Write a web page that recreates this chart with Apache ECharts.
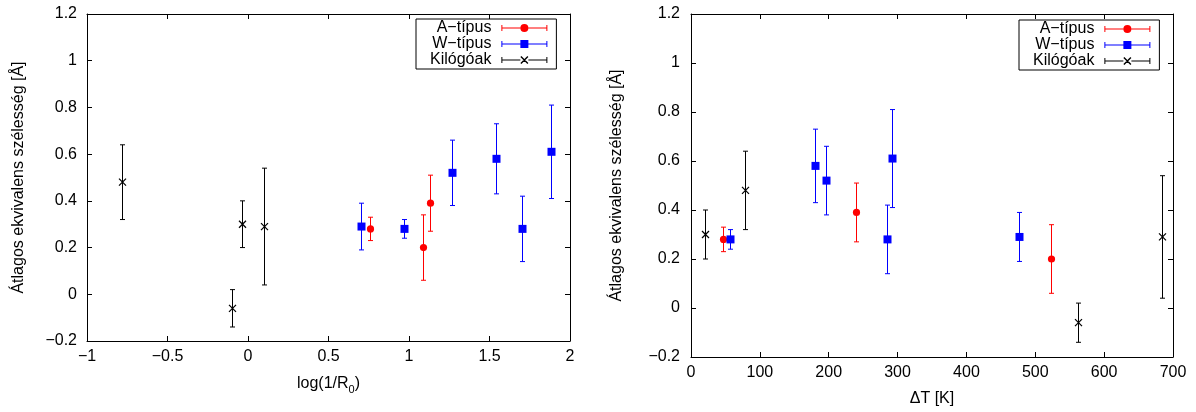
<!DOCTYPE html>
<html><head><meta charset="utf-8">
<script src="https://cdn.jsdelivr.net/npm/echarts@6/dist/echarts.min.js"></script>
<style>html,body{margin:0;padding:0;background:#fff}#c{width:1196px;height:412px}</style>
</head><body><div id="c"></div>
<script>
// ---- data ----
const seriesNames = ['A−típus', 'W−típus', 'Kilógóak'];
const aLogR   = [0.76, 1.09, 1.13];
const aDeltaT = [47, 523, 240];
const aWidth  = [0.28, 0.20, 0.39];
const aErr    = [0.05, 0.14, 0.12];
const wLogR   = [0.70, 0.97, 1.27, 1.54, 1.70, 1.88];
const wDeltaT = [477, 57, 196, 180, 285, 292];
const wWidth  = [0.29, 0.28, 0.52, 0.58, 0.28, 0.61];
const wErr    = [0.10, 0.04, 0.14, 0.15, 0.14, 0.20];
const kLogR   = [-0.78, -0.10, -0.04, 0.10];
const kDeltaT = [79, 562, 20, 684];
const kWidth  = [0.48, -0.06, 0.30, 0.29];
const kErr    = [0.16, 0.08, 0.10, 0.25];
const yLabel = 'Átlagos ekvivalens szélesség [Å]';
const xLabelLeft = '{n|log(1/R}{sub|0}{n|)}';
const xLabelRight = 'ΔT [K]';

const FONT = '"Liberation Sans", Arial, Helvetica, sans-serif';
const colors = ['#ff0000', '#0000ff', '#000000'];
const shapes = ['circle', 'square', 'cross'];

function zip(xs, ys, es) { return xs.map((x, i) => [x, ys[i], es[i]]); }

function makeRender(shape, color) {
  return function (params, api) {
    const x = api.value(0), y = api.value(1), e = api.value(2);
    const p = api.coord([x, y]);
    const t = api.coord([x, y + e]);
    const b = api.coord([x, y - e]);
    const cx = Math.round(p[0]) + 0.5;
    const st = { stroke: color, lineWidth: 1 };
    const ch = [
      { type: 'line', shape: { x1: cx, y1: t[1], x2: cx, y2: b[1] }, style: st },
      { type: 'line', shape: { x1: cx - 2.5, y1: t[1], x2: cx + 2.5, y2: t[1] }, style: st },
      { type: 'line', shape: { x1: cx - 2.5, y1: b[1], x2: cx + 2.5, y2: b[1] }, style: st }
    ];
    if (shape === 'circle') {
      ch.push({ type: 'circle', shape: { cx: cx, cy: p[1], r: 3.6 }, style: { fill: color } });
    } else if (shape === 'square') {
      ch.push({ type: 'rect', shape: { x: cx - 4, y: p[1] - 4, width: 8, height: 8 }, style: { fill: color } });
    } else {
      const sx = { stroke: color, lineWidth: 1.2 };
      ch.push({ type: 'line', shape: { x1: cx - 3.5, y1: p[1] - 3.5, x2: cx + 3.5, y2: p[1] + 3.5 }, style: sx });
      ch.push({ type: 'line', shape: { x1: cx - 3.5, y1: p[1] + 3.5, x2: cx + 3.5, y2: p[1] - 3.5 }, style: sx });
    }
    return { type: 'group', children: ch };
  };
}

const segs = 'M0,3.5H19V4.5H0Z M27,3.5H46V4.5H27Z M0,1H1V7H0Z M45,1H46V7H45Z ';
const icons = [
  'path://' + segs + 'M19,4A4,4 0 1 1 27,4A4,4 0 1 1 19,4Z',
  'path://' + segs + 'M19,0H27V8H19Z',
  'path://' + segs + 'M19,1L20,0L27,7L26,8Z M26,0L27,1L20,8L19,7Z'
];

const minus = s => String(s).replace('-', '−');
const axisCommon = {
  type: 'value',
  axisLine: { show: true, onZero: false, lineStyle: { color: '#000', width: 1 } },
  axisTick: { show: true, inside: true, length: 5, lineStyle: { color: '#000', width: 1 } },
  splitLine: { show: false },
  minorTick: { show: false },
  nameTextStyle: { fontSize: 16, color: '#000', fontFamily: FONT }
};
function ax(extra) { return Object.assign({}, JSON.parse(JSON.stringify(axisCommon)), extra); }
const lblStyle = (fmt, margin) => ({ show: true, color: '#000', fontSize: 16, fontFamily: FONT, margin: margin, formatter: fmt, showMinLabel: true, showMaxLabel: true });
const yFmt = v => minus(Math.round(v * 10) / 10);
const xFmtL = v => minus(Math.round(v * 10) / 10);
const xFmtR = v => minus(Math.round(v));

const legendCommon = {
  orient: 'vertical', align: 'right', itemWidth: 46, itemHeight: 8, itemGap: 0,
  selectedMode: false, borderColor: '#000', borderWidth: 1, borderRadius: 0,
  backgroundColor: '#fff',
  padding: [1, 9, 1, 14],
  itemStyle: { borderWidth: 0 },
  textStyle: { fontSize: 16, color: '#000', fontFamily: FONT, lineHeight: 16, padding: [0, 5, 0, 0] },
  data: seriesNames.map((n, i) => ({ name: n, icon: icons[i], itemStyle: { color: colors[i] } }))
};

const leftData = [zip(aLogR, aWidth, aErr), zip(wLogR, wWidth, wErr), zip(kLogR, kWidth, kErr)];
const rightData = [zip(aDeltaT, aWidth, aErr), zip(wDeltaT, wWidth, wErr), zip(kDeltaT, kWidth, kErr)];

const series = [];
[leftData, rightData].forEach((set, g) => {
  set.forEach((d, i) => {
    series.push({
      type: 'custom', name: seriesNames[i], coordinateSystem: 'cartesian2d',
      xAxisIndex: g * 2, yAxisIndex: g * 2,
      itemStyle: { color: colors[i] },
      encode: { x: 0, y: 1 },
      renderItem: makeRender(shapes[i], colors[i]),
      data: d, z: 2 + i, animation: false
    });
  });
});

const option = {
  backgroundColor: '#fff',
  animation: false,
  textStyle: { fontFamily: FONT },
  grid: [
    { left: 87, right: 626, top: 14, bottom: 71, outerBoundsMode: 'none', containLabel: false },
    { left: 691, right: 23, top: 14, bottom: 55, outerBoundsMode: 'none', containLabel: false }
  ],
  xAxis: [
    ax({ gridIndex: 0, position: 'bottom', min: -1, max: 2, interval: 0.5,
         axisLabel: lblStyle(xFmtL, 8), name: xLabelLeft, nameLocation: 'middle', nameGap: 32,
         nameTextStyle: { fontSize: 16, color: '#000', fontFamily: FONT, lineHeight: 22,
           rich: { n: { fontSize: 16, lineHeight: 22, color: '#000', fontFamily: FONT },
                   sub: { fontSize: 11, lineHeight: 12, verticalAlign: 'bottom', color: '#000', fontFamily: FONT } } } }),
    ax({ gridIndex: 0, position: 'top', min: -1, max: 2, interval: 0.5, axisLabel: { show: false } }),
    ax({ gridIndex: 1, position: 'bottom', min: 0, max: 700, interval: 100,
         axisLabel: lblStyle(xFmtR, 8), name: xLabelRight, nameLocation: 'middle', nameGap: 34 }),
    ax({ gridIndex: 1, position: 'top', min: 0, max: 700, interval: 100, axisLabel: { show: false } })
  ],
  yAxis: [
    ax({ gridIndex: 0, position: 'left', min: -0.2, max: 1.2, interval: 0.2,
         axisLabel: lblStyle(yFmt, 10), name: yLabel, nameLocation: 'middle', nameGap: 60, nameRotate: 90 }),
    ax({ gridIndex: 0, position: 'right', min: -0.2, max: 1.2, interval: 0.2, axisLabel: { show: false } }),
    ax({ gridIndex: 1, position: 'left', min: -0.2, max: 1.2, interval: 0.2,
         axisLabel: lblStyle(yFmt, 11), name: yLabel, nameLocation: 'middle', nameGap: 66, nameRotate: 90 }),
    ax({ gridIndex: 1, position: 'right', min: -0.2, max: 1.2, interval: 0.2, axisLabel: { show: false } })
  ],
  legend: [
    Object.assign({}, legendCommon, { left: 416, top: 19 }),
    Object.assign({}, legendCommon, { left: 1019, top: 20 })
  ],
  series: series
};

const chart = echarts.init(document.getElementById('c'), null, { renderer: 'canvas' });
chart.setOption(option);
</script>
</body></html>
